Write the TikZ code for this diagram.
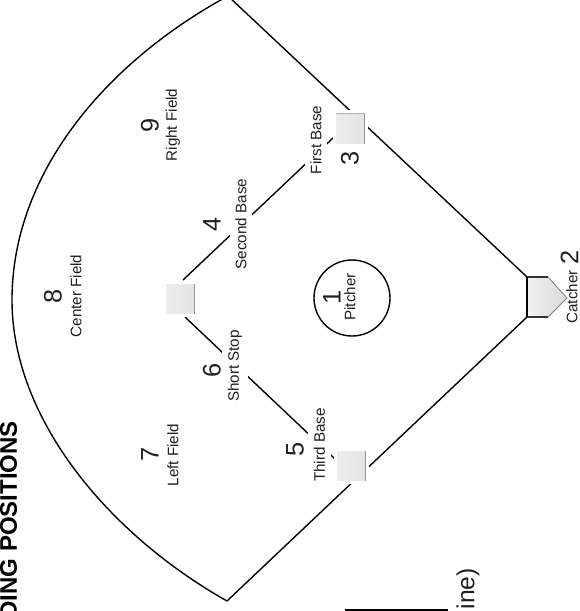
\documentclass[tikz,border=0pt]{standalone}
\usepackage{fontspec}
\setmainfont{Liberation Sans}
\usepackage{xcolor}
\usetikzlibrary{calc}
\definecolor{inkgray}{gray}{0.12}
\definecolor{baseedge}{rgb}{0.55,0.58,0.65}
\tikzset{
  posname/.style={rotate=90,text=inkgray,font=\fontsize{11.4}{13}\selectfont,inner sep=0.5pt},
  gapname/.style={posname,fill=white,inner ysep=4.3pt,inner xsep=1pt},
  posnum/.style={rotate=90,text=inkgray,font=\fontsize{19}{21}\selectfont,inner sep=0pt},
  basebox/.style={rectangle,minimum width=23.5pt,minimum height=25pt,inner sep=0pt,draw=white,line width=2.2pt,
    left color=black!7,right color=black!11,
    path picture={
      \draw[baseedge,line width=2.6pt] (path picture bounding box.north east) -- (path picture bounding box.south east);
      \draw[black!30,line width=2.6pt] (path picture bounding box.north west) -- (path picture bounding box.north east);
    }},
  fieldline/.style={line width=1.05pt,black}
}
\begin{document}
\begin{tikzpicture}[x=0.75pt,y=-0.75pt]
\clip (0,0) rectangle (579,611);
\coordinate (apex) at (228,-4);
\coordinate (plateA) at (527,277);
\coordinate (plateB) at (548,277);
\coordinate (plateC) at (567,298);
\coordinate (plateD) at (548,317);
\coordinate (plateE) at (527,317);
\coordinate (deepfield) at (12,300);
\coordinate (leftend) at (227,601);
\coordinate (secondA) at (183,280);
\coordinate (firstA) at (333,138);
\coordinate (secondB) at (185,317);
\coordinate (thirdA) at (335,459);
\draw[fieldline] (apex) .. controls (110,60) and (12,170) .. (deepfield)
  .. controls (12,420) and (110,535) .. (leftend);
\draw[fieldline] (apex) -- (plateA);
\draw[fieldline] (leftend) -- (plateE);
\draw[fieldline] (secondA) -- (firstA);
\draw[fieldline] (secondB) -- (thirdA);
\filldraw[left color=black!5,right color=black!14,draw=none] (plateA) -- (plateB) -- (plateC) -- (plateD) -- (plateE) -- cycle;
\draw[black!50,line width=0.6pt] (plateB) -- (plateC) -- (plateD);
\draw[black!80,line width=0.9pt] (plateA) -- (plateB);
\draw[black!80,line width=0.9pt] (plateD) -- (plateE);
\draw[black,line width=1.6pt] (plateA) -- (plateE);
\node[basebox] (firstbase) at (350.5,128.5) {};
\node[basebox] (secondbase) at (180.5,299) {};
\node[basebox] (thirdbase) at (351.5,466) {};
\node[circle,draw,line width=1.05pt,minimum size=57pt,inner sep=0pt] (moundring) at (352,298) {};
\node[gapname] (second) at (241,224) {Second Base};
\node[gapname] (short) at (235,366) {Short Stop};
\node[gapname] (third) at (319.5,445) {Third Base};
\node[gapname] (first) at (316,140) {First Base};
\node[posnum] (num8) at (53,296) {8};
\node[posname] (center) at (76,296) {Center Field};
\node[posnum] (num9) at (150,125) {9};
\node[posname] (right) at (173,125) {Right Field};
\node[posnum] (num7) at (150,454) {7};
\node[posname] (left) at (173,455) {Left Field};
\node[posnum] (num4) at (212,224) {4};
\node[posnum] (num6) at (212,370) {6};
\node[posnum] (num5) at (295,449) {5};
\node[posnum] (num3) at (350,158) {3};
\node[posnum] (num1) at (332,297) {1};
\node[posname] (pitcher) at (350,297) {Pitcher};
\node[posname] (catcher) at (572,297) {Catcher};
\node[posnum] (num2) at (569.5,257) {2};
\node[rotate=90,anchor=east,inner sep=0pt,font=\fontsize{18}{20}\bfseries\selectfont] (heading) at (8.5,421) {DING POSITIONS};
\node[rotate=90,anchor=east,inner sep=0pt,text=inkgray,font=\fontsize{18.5}{21}\selectfont] (tail) at (468,568) {ine)};
\coordinate (ruleA) at (345,609.5);
\coordinate (ruleB) at (448,609.5);
\draw[black,line width=1.5pt] (ruleA) -- (ruleB);
\end{tikzpicture}
\end{document}
